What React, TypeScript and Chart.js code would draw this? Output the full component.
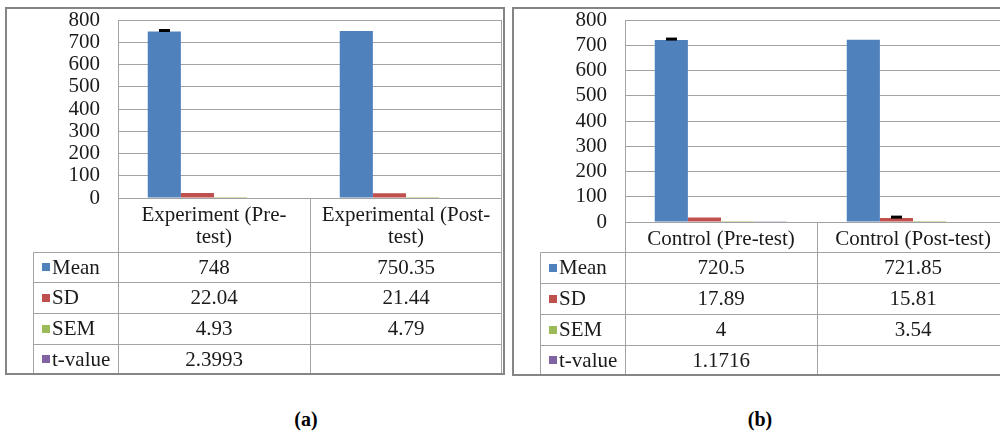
import React, { useEffect, useRef } from 'react';
import { Chart, registerables } from 'chart.js';

Chart.register(...registerables);

// ---------- data ----------
const seriesNames = ['Mean', 'SD', 'SEM', 't-value'];
const seriesColors = ['#4F81BD', '#C0504D', '#9BBB59', '#8064A2'];
const yTickValues = [0, 100, 200, 300, 400, 500, 600, 700, 800];

const categoriesA = [['Experiment (Pre-', 'test)'], ['Experimental (Post-', 'test)']];
const meanA = [748, 750.35];
const sdA = [22.04, 21.44];
const semA = [4.93, 4.79];
const tValueA: (number | null)[] = [2.3993, null];
const meanErrA: (number | null)[] = [4.93, null];
const sdErrA: (number | null)[] = [null, null];

const categoriesB = ['Control (Pre-test)', 'Control (Post-test)'];
const meanB = [720.5, 721.85];
const sdB = [17.89, 15.81];
const semB = [4, 3.54];
const tValueB: (number | null)[] = [1.1716, null];
const meanErrB: (number | null)[] = [4, null];
const sdErrB: (number | null)[] = [null, 3.54];

const captionA = '(a)';
const captionB = '(b)';

// ---------- styling ----------
const FONT_FAMILY = "'Liberation Serif', 'Times New Roman', serif";
const FONT_SIZE = 21;
const TEXT_COLOR = '#1a1a1a';
const GRID_COLOR = '#A3A3A3';
const BORDER_COLOR = '#858585';

type PanelProps = {
  left: number;
  top: number;
  width: number;
  height: number;
  plotLeft: number;
  plotTop: number;
  plotRight: number;
  plotBottom: number;
  legendLeft: number;
  rowLines: number[];
  borderRect: [number, number, number, number];
  categories: (string | string[])[];
  series: (number | null)[][];
  errors: ((number | null)[] | null)[];
};

function fmt(v: number | null) {
  return v == null ? '' : String(v);
}

function Panel(p: PanelProps) {
  const ref = useRef<HTMLCanvasElement | null>(null);

  useEffect(() => {
    const canvas = ref.current;
    if (!canvas) return;
    const font = { family: FONT_FAMILY, size: FONT_SIZE, lineHeight: 1.05 };

    const line = (ctx: CanvasRenderingContext2D, x1: number, y1: number, x2: number, y2: number) => {
      ctx.beginPath();
      ctx.moveTo(x1, y1);
      ctx.lineTo(x2, y2);
      ctx.stroke();
    };

    const tablePlugin = {
      id: 'tablePlugin',
      afterDatasetsDraw(chart: any) {
        const ctx: CanvasRenderingContext2D = chart.ctx;
        const ys = chart.scales.y;
        ctx.save();
        ctx.strokeStyle = '#000000';
        p.errors.forEach((errArr, di) => {
          if (!errArr) return;
          const meta = chart.getDatasetMeta(di);
          errArr.forEach((e, i) => {
            if (e == null) return;
            const v = p.series[di][i];
            if (v == null) return;
            const bar = meta.data[i];
            const x = Math.round(bar.x);
            const y0 = ys.getPixelForValue(v);
            const y1 = ys.getPixelForValue(v + e);
            ctx.lineWidth = 1;
            line(ctx, x + 0.5, y0, x + 0.5, y1);
            ctx.lineWidth = 3;
            line(ctx, x - 5, y1, x + 6, y1);
          });
        });
        ctx.restore();
      },
      afterDraw(chart: any) {
        const ctx: CanvasRenderingContext2D = chart.ctx;
        const { left, right, top, bottom } = chart.chartArea;
        const xs = chart.scales.x;
        const L = Math.round(left) + 0.5;
        const R = Math.round(right) - 0.5;
        const T = Math.round(top) + 0.5;
        const B = Math.round(bottom) + 0.5;
        const tableBottom = p.rowLines[p.rowLines.length - 1] + 0.5;
        ctx.save();
        ctx.strokeStyle = GRID_COLOR;
        ctx.lineWidth = 1;
        line(ctx, L, T, L, tableBottom);
        line(ctx, R, T, R, tableBottom);
        line(ctx, L, T, R, T);
        line(ctx, L, B, R, B);
        const n = p.categories.length;
        for (let i = 1; i < n; i++) {
          const x = Math.round((xs.getPixelForValue(i - 1) + xs.getPixelForValue(i)) / 2) + 0.5;
          line(ctx, x, B, x, tableBottom);
        }
        const LL = p.legendLeft + 0.5;
        p.rowLines.forEach((y) => line(ctx, LL, y + 0.5, R, y + 0.5));
        line(ctx, LL, p.rowLines[0] + 0.5, LL, tableBottom);

        ctx.font = `${FONT_SIZE}px ${FONT_FAMILY}`;
        ctx.textBaseline = 'middle';
        for (let r = 0; r < seriesNames.length; r++) {
          const yc = (p.rowLines[r] + p.rowLines[r + 1]) / 2 + 1;
          ctx.fillStyle = seriesColors[r];
          ctx.fillRect(p.legendLeft + 9, Math.round(yc - 5), 8, 8);
          ctx.fillStyle = TEXT_COLOR;
          ctx.textAlign = 'left';
          ctx.fillText(seriesNames[r], p.legendLeft + 19, yc);
          ctx.textAlign = 'center';
          for (let c = 0; c < n; c++) {
            ctx.fillText(fmt(p.series[r][c]), xs.getPixelForValue(c), yc);
          }
        }

        ctx.strokeStyle = BORDER_COLOR;
        ctx.lineWidth = 2;
        const [bx, by, bw, bh] = p.borderRect;
        ctx.strokeRect(bx, by, bw, bh);
        ctx.restore();
      },
    };

    const chart = new Chart(canvas, {
      type: 'bar',
      data: {
        labels: p.categories as any,
        datasets: p.series.map((d, i) => ({
          label: seriesNames[i],
          data: d as any,
          backgroundColor: seriesColors[i],
          borderWidth: 0,
          categoryPercentage: 0.69,
          barPercentage: 1,
        })),
      },
      options: {
        responsive: false,
        animation: false,
        devicePixelRatio: 1,
        layout: { padding: { left: 0, top: p.plotTop, right: p.width - p.plotRight, bottom: 0 } },
        plugins: { legend: { display: false }, tooltip: { enabled: false } },
        scales: {
          x: {
            grid: { display: false, drawTicks: false },
            border: { display: false },
            ticks: {
              font,
              color: TEXT_COLOR,
              padding: 6,
              maxRotation: 0,
              minRotation: 0,
              autoSkip: false,
            },
            afterFit: (s: any) => {
              s.height = p.height - p.plotBottom;
              s.paddingLeft = 0;
              s.paddingRight = 0;
            },
          },
          y: {
            min: 0,
            max: 800,
            afterBuildTicks: (s: any) => {
              s.ticks = yTickValues.map((v) => ({ value: v }));
            },
            ticks: { font, color: TEXT_COLOR, padding: 18, autoSkip: false },
            grid: { color: GRID_COLOR, drawTicks: false, lineWidth: 1 },
            border: { display: false },
            afterFit: (s: any) => {
              s.width = p.plotLeft;
              s.paddingTop = 0;
              s.paddingBottom = 0;
            },
          },
        },
      },
      plugins: [tablePlugin],
    });
    return () => chart.destroy();
  }, []);

  return (
    <canvas
      ref={ref}
      width={p.width}
      height={p.height}
      style={{ position: 'absolute', left: p.left, top: p.top, width: p.width, height: p.height }}
    />
  );
}

export default function App() {
  const captionStyle: React.CSSProperties = {
    position: 'absolute',
    top: 408,
    fontFamily: FONT_FAMILY,
    fontWeight: 'bold',
    fontSize: 20,
    color: '#000',
    lineHeight: '22px',
    width: 60,
    textAlign: 'center',
  };
  return (
    <div
      style={{
        position: 'absolute',
        left: 0,
        top: 0,
        width: 1000,
        height: 432,
        overflow: 'hidden',
        background: '#fff',
      }}
    >
      <Panel
        left={5}
        top={7}
        width={501}
        height={370}
        plotLeft={113}
        plotTop={13}
        plotRight={497}
        plotBottom={191}
        legendLeft={28}
        rowLines={[245, 275, 306, 337, 367]}
        borderRect={[1, 1, 498, 366]}
        categories={categoriesA}
        series={[meanA, sdA, semA, tValueA]}
        errors={[meanErrA, sdErrA, null, null]}
      />
      <Panel
        left={511}
        top={7}
        width={500}
        height={370}
        plotLeft={114}
        plotTop={13}
        plotRight={498}
        plotBottom={215}
        legendLeft={29}
        rowLines={[245, 276, 307, 338, 368]}
        borderRect={[2, 1, 502, 367]}
        categories={categoriesB}
        series={[meanB, sdB, semB, tValueB]}
        errors={[meanErrB, sdErrB, null, null]}
      />
      <div style={{ ...captionStyle, left: 276 }}>{captionA}</div>
      <div style={{ ...captionStyle, left: 730 }}>{captionB}</div>
    </div>
  );
}
